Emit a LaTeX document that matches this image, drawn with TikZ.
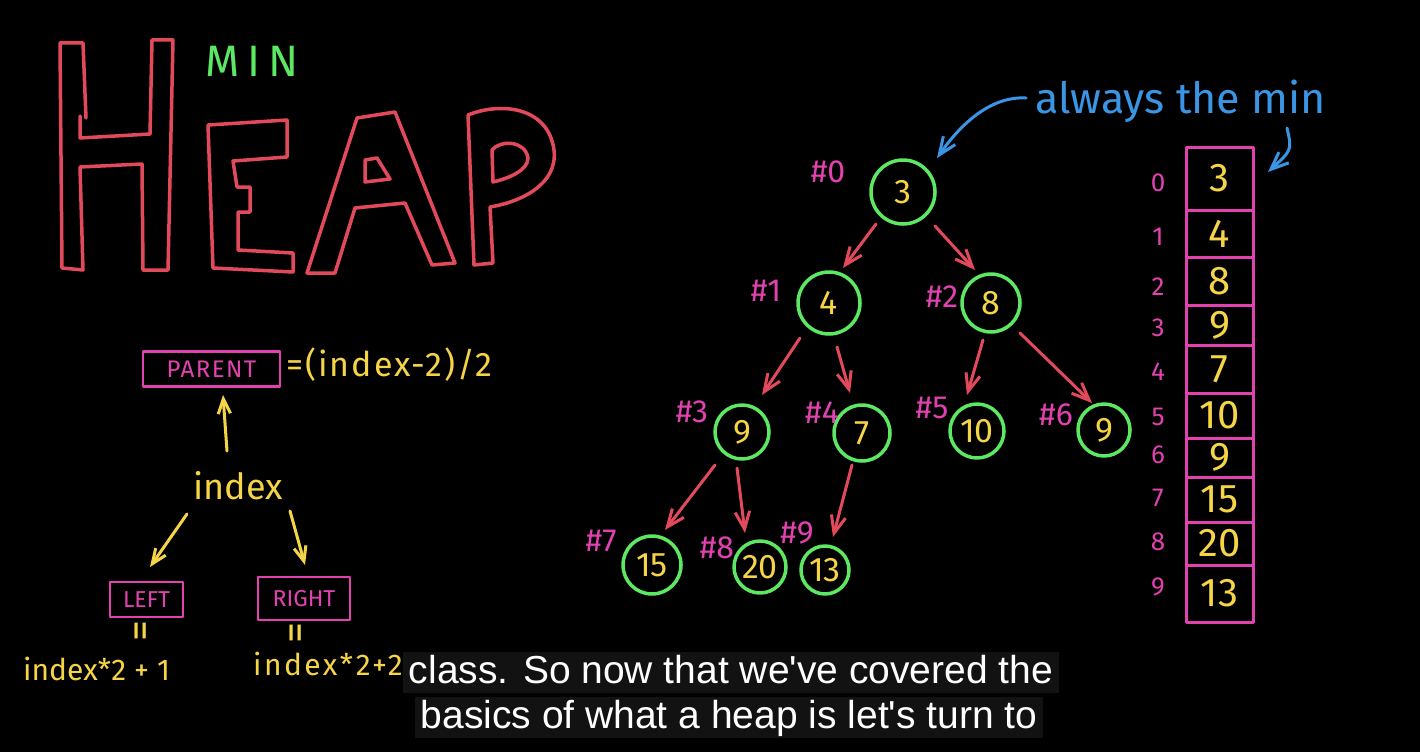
\documentclass[tikz,border=0pt]{standalone}
\usepackage{fontspec}
\setmainfont{Fira Sans}
\newfontfamily\subfont{Liberation Sans}
\usetikzlibrary{arrows.meta,calc}
\definecolor{heapred}{RGB}{226,74,92}
\definecolor{hgreen}{RGB}{92,232,98}
\definecolor{hyellow}{RGB}{246,212,72}
\definecolor{hmag}{RGB}{226,66,176}
\definecolor{hblue}{RGB}{58,150,228}
\definecolor{subbg}{RGB}{18,18,18}
\newcommand\fsz[1]{\fontsize{#1}{#1}\selectfont}
\begin{document}
\begin{tikzpicture}[x=1pt,y=-1pt, line cap=round, line join=round,
  heapline/.style={draw=heapred, line width=3.5pt},
  tnode/.style={circle, draw=hgreen, line width=3.5pt, text=hyellow, font=\fsz{34}, inner sep=0pt},
  tlabel/.style={text=hmag, font=\fsz{32}, inner sep=0pt},
  redarr/.style={draw=heapred, line width=3pt, -{Straight Barb[angle=45:19pt]}},
  yarr/.style={draw=hyellow, line width=3pt, -{Straight Barb[angle=45:16pt]}},
  barr/.style={draw=hblue, line width=3pt, -{Straight Barb[angle=45:19pt]}},
  cell/.style={draw=hmag, line width=3pt, minimum width=67, text=hyellow, font=\fsz{40}, inner sep=0pt},
  ilabel/.style={text=hmag, font=\fsz{26}, inner sep=0pt},
  magbox/.style={draw=hmag, line width=2.5pt, text=hmag, inner sep=0pt},
  yel/.style={text=hyellow, inner sep=0pt},
  subline/.style={fill=subbg, text=white, font=\subfont\fsz{39}, inner xsep=6pt, text height=31pt, text depth=10pt, inner ysep=0pt}
]
\path[use as bounding box] (0,0) rectangle (1420,752);
\fill[black] (0,0) rectangle (1420,752);

% ---- HEAP title (outlined letters)
\draw[heapline] (60,43) -- (83,43) -- (86,118);
\draw[heapline] (80,116) -- (80,138) -- (150,134) -- (152,40) -- (173,40) -- (168,270) -- (143,270) -- (142,164) -- (80,167) -- (83,270) -- (62,268) -- (60,43);
\draw[heapline] (208,125) -- (287,120) -- (287,157) -- (233,161) -- (237,187) -- (250,187) -- (250,212) -- (238,212) -- (238,250) -- (293,253) -- (293,272) -- (213,268) -- cycle;
\draw[heapline] (307,273) -- (357,118) -- (395,112) -- (455,263) -- (432,265) -- (405,203) -- (355,208) -- (335,273) -- cycle;
\draw[heapline] (365,160) -- (377,158) -- (390,179) -- (365,182) -- cycle;
\draw[heapline] (468,115) .. controls (500,102) and (548,106) .. (554,150) .. controls (558,185) and (520,202) .. (490,207) -- (493,263) -- (474,265) -- cycle;
\draw[heapline] (493,182) -- (492,150) .. controls (500,140) and (525,140) .. (528,158) .. controls (528,170) and (510,178) .. (493,182) -- cycle;
\node[text=hgreen, font=\fsz{44}\addfontfeature{LetterSpace=18}, anchor=base west, inner sep=0pt] (min) at (205,76) {MIN};

% ---- index formulas
\node[magbox, minimum width=137, minimum height=35, font=\fsz{24}\addfontfeature{LetterSpace=6}] (parent) at (211.5,369) {PARENT};
\node[yel, font=\fsz{34}\addfontfeature{LetterSpace=6}, anchor=west] (pform) at (286,365) {=(index-2)/2};
\node[yel, font=\fsz{36}] (index) at (238,486) {index};
\node[magbox, minimum width=73, minimum height=35, font=\fsz{23}] (left) at (146.5,599.5) {LEFT};
\node[magbox, minimum width=92, minimum height=43, font=\fsz{23}] (right) at (304,598.5) {RIGHT};
\node[yel, rotate=90, font=\fsz{42}] (eqL) at (145,631) {=};
\node[yel, rotate=90, font=\fsz{42}] (eqR) at (300,633) {=};
\node[yel, font=\fsz{30}, anchor=base west] (fL) at (23,680) {index*2 + 1};
\node[yel, font=\fsz{30}\addfontfeature{LetterSpace=8}, anchor=base west] (fR) at (253,675) {index*2+2};
\draw[yarr] ([shift={(-11,-35)}]index.center) -- ([shift={(11.5,26)}]parent.center);
\draw[yarr] ([shift={(-51,28)}]index.center) -- ([shift={(3.5,-32.5)}]left.center);
\draw[yarr] ([shift={(52,25)}]index.center) -- ([shift={(1,-33.5)}]right.center);

% ---- tree
\node[tnode, minimum size=64] (n0) at (903,192) {3};
\node[tnode, minimum size=62] (n1) at (829,303) {4};
\node[tnode, minimum size=58] (n2) at (991,303) {8};
\node[tnode, minimum size=54] (n3) at (742,432) {9};
\node[tnode, minimum size=56] (n4) at (862,433) {7};
\node[tnode, minimum size=54] (n5) at (977,431) {10};
\node[tnode, minimum size=52] (n6) at (1104,430) {9};
\node[tnode, minimum size=58] (n7) at (652,565) {15};
\node[tnode, minimum size=52] (n8) at (760,567) {20};
\node[tnode, minimum size=48] (n9) at (825,570) {13};
\node[tlabel] (t0) at (828,172) {\#0};
\node[tlabel] (t1) at (766,291) {\#1};
\node[tlabel] (t2) at (942,297) {\#2};
\node[tlabel] (t3) at (692,412) {\#3};
\node[tlabel] (t4) at (822,413) {\#4};
\node[tlabel] (t5) at (932,408) {\#5};
\node[tlabel] (t6) at (1056,415) {\#6};
\node[tlabel] (t7) at (601,541) {\#7};
\node[tlabel] (t8) at (717,548) {\#8};
\node[tlabel] (t9) at (797,533) {\#9};
\draw[redarr] ([shift={(-27,32)}]n0.center) -- ([shift={(14,-35)}]n1.center);
\draw[redarr] ([shift={(32,34)}]n0.center) -- ([shift={(-16,-33)}]n2.center);
\draw[redarr] ([shift={(-29,35)}]n1.center) -- ([shift={(20,-37)}]n3.center);
\draw[redarr] ([shift={(8,44)}]n1.center) -- ([shift={(-12,-40)}]n4.center);
\draw[redarr] ([shift={(-8,37)}]n2.center) -- ([shift={(-10,-36)}]n5.center);
\draw[redarr] ([shift={(29,30)}]n2.center) -- ([shift={(-12,-27)}]n6.center);
\draw[redarr] ([shift={(-27,33)}]n3.center) -- ([shift={(13,-35)}]n7.center);
\draw[redarr] ([shift={(-5,36)}]n3.center) -- ([shift={(-15,-34)}]n8.center);
\draw[redarr] ([shift={(-10,32)}]n4.center) -- ([shift={(8,-33)}]n9.center);

% ---- array
\node[cell, minimum height=63] (c0) at (1219.5,178.5) {3};
\node[cell, minimum height=47] (c1) at (1219.5,233.5) {4};
\node[cell, minimum height=48] (c2) at (1219.5,281) {8};
\node[cell, minimum height=40] (c3) at (1219.5,325) {9};
\node[cell, minimum height=48] (c4) at (1219.5,369) {7};
\node[cell, minimum height=45] (c5) at (1219.5,415.5) {10};
\node[cell, minimum height=39] (c6) at (1219.5,457.5) {9};
\node[cell, minimum height=45] (c7) at (1219.5,499.5) {15};
\node[cell, minimum height=43] (c8) at (1219.5,543.5) {20};
\node[cell, minimum height=57] (c9) at (1219.5,593.5) {13};
\node[ilabel] (i0) at (1158,183) {0};
\node[ilabel] (i1) at (1158,237) {1};
\node[ilabel] (i2) at (1158,287) {2};
\node[ilabel] (i3) at (1158,328) {3};
\node[ilabel] (i4) at (1158,372) {4};
\node[ilabel] (i5) at (1158,417) {5};
\node[ilabel] (i6) at (1158,455) {6};
\node[ilabel] (i7) at (1158,498) {7};
\node[ilabel] (i8) at (1158,542) {8};
\node[ilabel] (i9) at (1158,587) {9};

% ---- blue annotation
\node[text=hblue, font=\fsz{43}, anchor=base west, inner sep=0pt] (always) at (1035,113) {always the min};
\coordinate (bA) at (1026,98);
\coordinate (bB) at (1287,128);
\draw[barr] (bA) .. controls (995,96) and (965,118) .. ([shift={(34,-34)}]n0.center);
\draw[barr] (bB) .. controls (1292,150) .. ([shift={(48.5,-6.5)}]c0.center);

% ---- subtitles
\node[subline, anchor=base] (s1) at (731,683) {class. So now that we've covered the};
\node[subline, anchor=base] (s2) at (729,728) {basics of what a heap is let's turn to};
\end{tikzpicture}
\end{document}
